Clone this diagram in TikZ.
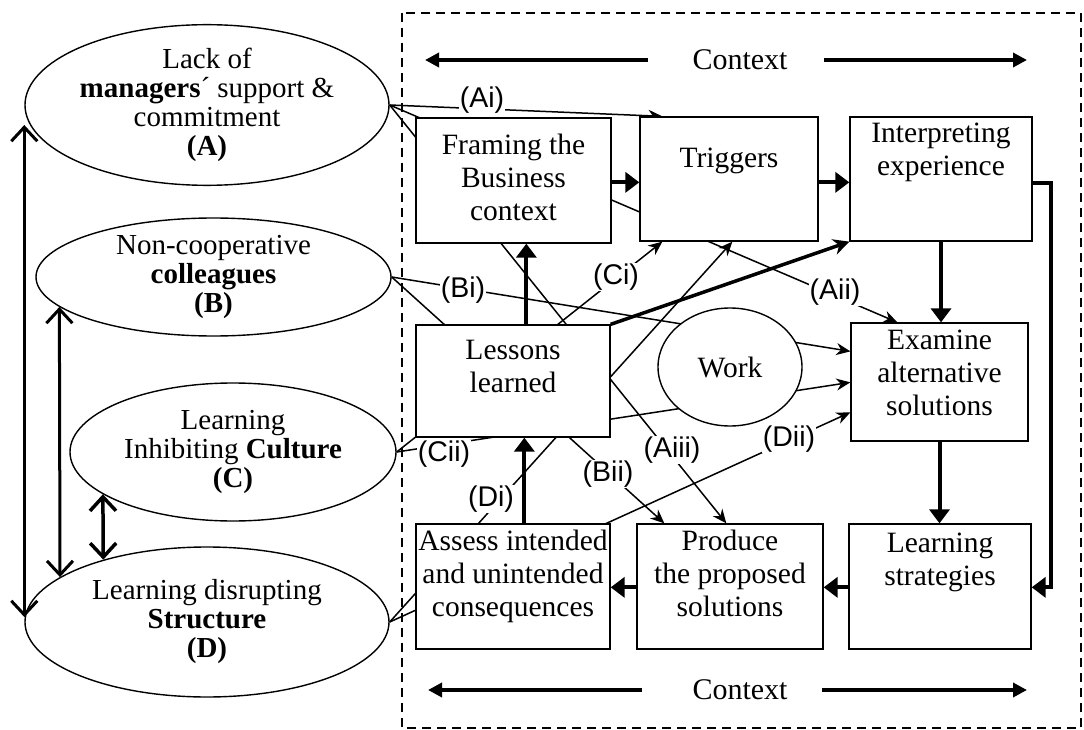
\documentclass[tikz,border=0pt]{standalone}
\usepackage{fontspec}
\setmainfont{Liberation Serif}
\newfontfamily\lblfont{Liberation Sans}
\usetikzlibrary{shapes.geometric,arrows.meta,calc,backgrounds}
\begin{document}
\begin{tikzpicture}[x=1pt,y=-1pt,
  box/.style={draw,line width=1.3pt,fill=white,inner sep=0pt},
  boxtxt/.style={anchor=north,align=center,inner sep=0pt,font=\fontsize{29.5}{33}\selectfont},
  barrier/.style={ellipse,draw,line width=1.4pt,fill=white,inner sep=0pt,align=center,font=\fontsize{29}{29}\selectfont},
  tag/.style={fill=white,inner sep=1pt,font=\lblfont\fontsize{28.5}{30}\selectfont},
  link/.style={line width=1.5pt,-{Stealth[length=14pt,width=12pt]}},
  flow/.style={line width=4pt,-{Triangle[length=14pt,width=20pt]}},
  mutual/.style={line width=3pt,{Straight Barb[length=14pt,width=26pt]}-{Straight Barb[length=14pt,width=26pt]}},
  ctx/.style={line width=4pt,-{Triangle[length=14pt,width=14pt]}},
  ctxtxt/.style={inner sep=0pt,font=\fontsize{30}{33}\selectfont}
]
\useasboundingbox (0,0) rectangle (1084,730);

% context frame
\draw[line width=2pt,dash pattern=on 9pt off 6pt] (402,13) rectangle (1081,728);
\node[ctxtxt] (ctxtop) at (740,60) {Context};
\node[ctxtxt] (ctxbot) at (740,690) {Context};
\coordinate (ct1) at (648,60);  \coordinate (ct2) at (425,60);
\coordinate (ct3) at (824,60);  \coordinate (ct4) at (1027,60);
\coordinate (cb1) at (642,690); \coordinate (cb2) at (428,690);
\coordinate (cb3) at (822,690); \coordinate (cb4) at (1027,690);
\draw[ctx] (ct1) -- (ct2);
\draw[ctx] (ct3) -- (ct4);
\draw[ctx] (cb1) -- (cb2);
\draw[ctx] (cb3) -- (cb4);

% barriers
\node[barrier,minimum width=364pt,minimum height=157pt] (A) at (207,105)
  {Lack of\\\textbf{managers}´ support \&\\commitment\\\textbf{(A)}};
\node[barrier,minimum width=355pt,minimum height=118pt] (B) at (213.5,277)
  {Non-cooperative\\\textbf{colleagues}\\\textbf{(B)}};
\node[barrier,minimum width=326pt,minimum height=138pt] (C) at (233,452)
  {Learning\\Inhibiting \textbf{Culture}\\\textbf{(C)}};
\node[barrier,minimum width=364pt,minimum height=150pt] (D) at (207,622)
  {Learning disrupting\\\textbf{Structure}\\\textbf{(D)}};

% learning cycle boxes
\node[box,minimum width=195pt,minimum height=125pt] (frame) at (513.5,180.5) {};
\node[box,minimum width=178pt,minimum height=124pt] (trig) at (729,179) {};
\node[box,minimum width=182pt,minimum height=124pt] (interp) at (941,179) {};
\node[box,minimum width=194pt,minimum height=112pt] (lessons) at (513,381) {};
\node[box,minimum width=177pt,minimum height=118pt] (exam) at (939.5,382) {};
\node[box,minimum width=194pt,minimum height=125pt] (assess) at (513,586.5) {};
\node[box,minimum width=186pt,minimum height=125pt] (produce) at (730,586.5) {};
\node[box,minimum width=182pt,minimum height=125pt] (strat) at (940,586.5) {};
\node[ellipse,draw,line width=1.4pt,fill=white,inner sep=0pt,minimum width=144pt,
  minimum height=118pt,font=\fontsize{29.5}{33}\selectfont] (work) at (730,367) {Work};

\node[boxtxt] (frameT) at ($(frame.north)+(0,16)$) {Framing the\\Business\\context};
\node[boxtxt] (trigT) at ($(trig.north)+(0,31)$) {Triggers};
\node[boxtxt] (interpT) at ($(interp.north)+(0,6)$) {Interpreting\\experience};
\node[boxtxt] (lessonsT) at ($(lessons.north)+(0,16)$) {Lessons\\learned};
\node[boxtxt] (examT) at ($(exam.north)+(0,7)$) {Examine\\alternative\\solutions};
\node[boxtxt] (assessT) at ($(assess.north)+(0,6)$) {Assess intended\\and unintended\\consequences};
\node[boxtxt] (produceT) at ($(produce.north)+(0,6)$) {Produce\\the proposed\\solutions};
\node[boxtxt] (stratT) at ($(strat.north)+(0,9)$) {Learning\\strategies};

% influence of the barriers on the cycle
\begin{pgfonlayer}{background}
\draw[link] (A.east) -- ($(trig.north west)+(23,0)$);
\draw[link] (A.east) -- ($(exam.north west)+(47,0)$);
\draw[link] (A.east) -- ($(produce.north west)+(90,0)$);
\draw[link] (B.east) -- ($(exam.north west)+(0,29)$);
\draw[link] (B.east) -- ($(produce.north west)+(28,0)$);
\draw[link] (C.east) -- ($(trig.south west)+(23,0)$);
\draw[link] (C.east) -- ($(exam.north west)+(0,60)$);
\draw[link] (D.east) -- ($(trig.south west)+(93,0)$);
\draw[link] (D.east) -- ($(exam.north west)+(0,90)$);
\end{pgfonlayer}

\node[tag] (lAi) at (482,100) {(Ai)};
\node[tag] (lAii) at (835,292) {(Aii)};
\node[tag] (lAiii) at (672,450) {(Aiii)};
\node[tag] (lBi) at (463,290) {(Bi)};
\node[tag] (lBii) at (608,474) {(Bii)};
\node[tag] (lCi) at (616,277) {(Ci)};
\node[tag] (lCii) at (444,454) {(Cii)};
\node[tag] (lDi) at (491,499) {(Di)};
\node[tag] (lDii) at (789,439) {(Dii)};

% cycle flow
\draw[flow] ($(frame.north east)+(0,65)$) -- ($(trig.north west)+(0,66)$);
\draw[flow] ($(trig.north east)+(0,66)$) -- ($(interp.north west)+(0,66)$);
\draw[flow] (interp.south) -- (interp.south |- exam.north);
\draw[flow] (exam.south) -- (exam.south |- strat.north);
\draw[flow] ($(strat.north west)+(0,64)$) -- ($(produce.north east)+(0,64)$);
\draw[flow] ($(produce.north west)+(0,64)$) -- ($(assess.north east)+(0,64)$);
\draw[flow] ($(assess.north west)+(109,0)$) -- ($(lessons.south west)+(109,0)$);
\draw[flow] ($(lessons.north west)+(111,0)$) -- ($(frame.south west)+(111,0)$);
\draw[line width=3.5pt,-{Stealth[length=16pt,width=16pt]}] (lessons.north east) -- (interp.south west);
\draw[flow] ($(interp.north east)+(0,67)$) -- ++(18,0) |- ($(strat.north east)+(0,64)$);

% links between the barriers
\draw[mutual] ($(A.west)+(0,20)$) -- ($(D.west)+(0,-5)$);
\draw[mutual] (B.191) -- (D.163);
\draw[mutual,line width=3.5pt] (C.198) -- (D.149);
\end{tikzpicture}
\end{document}
